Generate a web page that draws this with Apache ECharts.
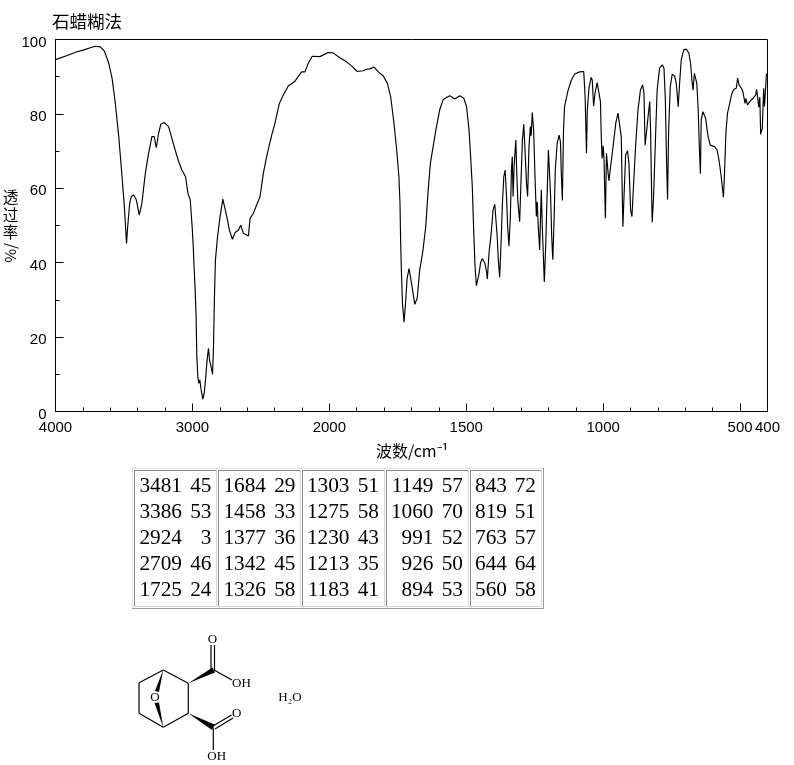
<!DOCTYPE html>
<html>
<head>
<meta charset="utf-8">
<style>html,body{margin:0;padding:0;background:#fff}#chart{width:794px;height:765px}</style>
<script src="https://cdn.jsdelivr.net/npm/echarts@6/dist/echarts.min.js"></script>
</head>
<body>
<div id="chart"></div>
<script>
// Spectrum: [wavenumber in cm-1, transmittance in %]
const spectrumOH = [[4000,94.6],[3995,94.7],[3915,95.7],[3842,96.7],[3793,97.2],[3745,97.8],[3708,98.2],[3672,98.0],[3643,96.9],[3611,93.6],[3587,89.6],[3563,82.8],[3538,73.9],[3514,63.1],[3497,55],[3487,48.8],[3481,45.2],[3475,48.8],[3458,56],[3446,57.8],[3429,58.2],[3410,56.9],[3388,52.8],[3369,56],[3344,64],[3320,69.4],[3296,73.9],[3279,73.9],[3264,70.9],[3247,74.8],[3230,77.3],[3206,77.7],[3174,76.6],[3150,73.4],[3126,70.3],[3101,67.2],[3077,64.9],[3050,63.1],[3033,58.7],[3016,56.9],[3002,49.7]];
const spectrumCH = [[2994,44.3],[2987,38.1],[2980,32.7],[2973,25.5],[2968,14.8],[2960,9],[2953,7.6],[2946,8.5],[2936,5.8],[2924,3.3],[2914,4.9],[2902,9.4],[2895,13],[2883,17],[2875,13.9],[2861,11.6],[2853,10],[2846,17.5],[2839,30.9],[2832,40.7],[2817,46.8],[2798,52.4],[2778,57.1],[2769,57.3],[2749,52.4],[2730,48.8],[2708,46.3],[2688,48.1],[2664,48.8],[2647,50.1],[2628,47.9],[2591,47.2],[2579,51.9],[2555,53.3],[2531,55.5],[2506,57.8]];
const spectrumPlateau = [[2482,64],[2458,68.5],[2421,74.3],[2397,77.5],[2365,82.8],[2336,85.1],[2300,87.5],[2251,88.8],[2203,91.3],[2178,91.3],[2154,93.6],[2125,95.5],[2069,95.4],[2008,96.5],[1986,96.4],[1962,95.1],[1937,94],[1919,92.9],[1898,91.4],[1876,91.6],[1864,92],[1852,92.1],[1837,92.6],[1821,91.3],[1803,90.2],[1788,88.2],[1776,84.6],[1764,77.5],[1754,70.3],[1746,63.1]];
const spectrumCO = [[1742,56],[1740,47],[1737,38],[1733,29],[1727,24],[1721,30],[1716,35.8],[1709,38.4],[1703,38],[1698,33.6],[1688,28.8],[1679,30.5],[1670,38],[1658,43.4],[1648,49.7],[1639,59.6],[1631,66.7],[1621,71.2],[1611,75.7],[1597,81.1],[1584,83.9],[1572,84.4],[1560,84.9],[1542,84],[1524,84.9],[1509,84.2],[1499,82],[1490,75.7],[1484,68.5],[1478,60.5],[1473,48.8],[1468,39],[1463,33.8],[1458,33.4]];
const spectrumFingerprintA = [[1453,37.2],[1448,39.9],[1442,41.1],[1432,39.9],[1426,37.6],[1423,35.6],[1417,42.6],[1409,47.9],[1402,54.2],[1396,55.7],[1392,55.3],[1387,47],[1383,40.8],[1378,36.1],[1373,45.2],[1368,56],[1363,63.1],[1358,64.9],[1353,57.8],[1349,49.7],[1344,44.5],[1339,52.4],[1335,64.9],[1332,68.5],[1329,57.8],[1325,66.3],[1319,73],[1316,65],[1312,56.9],[1305,51],[1300,62.2],[1295,73],[1290,77.2],[1285,69.4],[1280,61.3],[1276,57.8],[1271,71.2],[1266,76.6],[1263,74.1],[1259,80.4],[1254,75.7],[1249,63.1],[1244,52.4],[1241,56.4],[1237,49.7],[1232,43.4],[1226,59.6],[1222,48.8],[1215,34.8],[1210,44.3],[1205,57.8],[1200,70.3],[1195,70.8],[1192,57.8],[1188,47],[1184,40.8],[1179,52.4],[1175,64.9],[1168,72.1],[1161,74.3],[1156,72.5],[1153,64],[1149,56.7]];
const spectrumFingerprintB = [[1145,75.7],[1141,82],[1128,86.4],[1116,89.1],[1104,90.7],[1086,91.3],[1071,91.4],[1066,84.6],[1061,69.4],[1058,81],[1052,86.9],[1044,89.8],[1040,89.1],[1035,82.1],[1030,85.5],[1022,88.4],[1015,88],[1010,83.3],[1007,73.9],[1004,68],[1000,71.4],[997,68],[992,51.9],[988,69.4],[982,64],[979,62],[973,65.8],[964,71.2],[954,77.5],[946,80.2],[940,80.2],[934,73.9],[930,56.9],[928,49.7],[924,57.8],[918,69],[911,70.1],[906,66.7],[900,54.2],[895,52.4],[887,64],[881,72.1],[873,81],[864,86.4],[856,87.8],[851,85.5],[847,71.6],[845,71.5],[841,75.7],[836,79.3],[830,83.3],[827,75.7],[823,57.8],[821,50.9],[816,57.8],[808,75.7],[803,86.4],[794,92.3],[784,93.2],[778,92.3],[773,83.7],[769,68.5],[765,57]];
const spectrumLowEnd = [[761,75.7],[755,87.3],[748,90.7],[739,90.2],[733,88.2],[726,81.9],[721,88.2],[715,94.5],[706,97.2],[696,97.4],[687,96.3],[681,93.6],[676,89.1],[672,86.4],[667,90.9],[663,91.1],[658,88.2],[653,81],[649,71.2],[645,63.9],[642,78.4],[636,80.6],[631,80.9],[626,78.8],[617,73.9],[609,71.6],[593,71.2],[584,70.3],[577,67.6],[569,63.1],[561,57.6],[557,64],[552,74.8],[546,80.2],[538,82.8],[530,85.5],[523,86.6],[514,86.9],[509,89.6],[504,87.8],[499,88.2],[495,86.9],[490,86],[482,82.8],[479,84.2],[473,82.4],[465,83.3],[453,84.2],[443,85.1],[440,86.6],[436,84.5],[432,81.8],[428,84.5],[425,74.5],[419,76.1],[414,86.9],[411,82],[408,82.5],[404,90.6],[400,91]];

const xTickLabels = [4000, 3000, 2000, 1500, 1000, 500, 400];
const yTickLabels = [0, 20, 40, 60, 80, 100];

// Peak table columns
const peakWavenumbers = [
  [3481, 3386, 2924, 2709, 1725],
  [1684, 1458, 1377, 1342, 1326],
  [1303, 1275, 1230, 1213, 1183],
  [1149, 1060, 991, 926, 894],
  [843, 819, 763, 644, 560]
];
const peakValues = [
  [45, 53, 3, 46, 24],
  [29, 33, 36, 45, 58],
  [51, 58, 43, 35, 41],
  [57, 70, 52, 50, 53],
  [72, 51, 57, 64, 58]
];

const titleText = '石蜡糊法';
const xAxisName = '波数/cm⁻¹';

// The instrument's scale doubles below 2000 cm-1: map wavenumber onto a linear axis.
function toAxis(w) { return w >= 2000 ? (4000 - w) / 2 : 1000 + (2000 - w); }
function fromAxis(u) { return u <= 1000 ? 4000 - 2 * u : 2000 - (u - 1000); }

const spectrum = [].concat(spectrumOH, spectrumCH, spectrumPlateau, spectrumCO,
  spectrumFingerprintA, spectrumFingerprintB, spectrumLowEnd);

const axisFont = { fontFamily: '"Liberation Sans",sans-serif', fontSize: 15, color: '#000' };
const cjk = '"Noto Sans CJK SC",sans-serif';
const serif = '"Liberation Serif",serif';

const graphics = [];
function addText(text, x, y, font, align, opts) {
  graphics.push(Object.assign({
    type: 'text', silent: true,
    style: { text, x, y, font, textAlign: align || 'left', textVerticalAlign: 'middle', fill: '#000' }
  }, opts || {}));
}
function addLine(x1, y1, x2, y2, stroke, width) {
  graphics.push({ type: 'line', silent: true, shape: { x1, y1, x2, y2 }, style: { stroke: stroke || '#000', lineWidth: width || 1.2 } });
}
function addWedge(tipX, tipY, endX1, endY1, endX2, endY2) {
  graphics.push({ type: 'polygon', silent: true, shape: { points: [[tipX, tipY], [endX1, endY1], [endX2, endY2]] }, style: { fill: '#000' } });
}

// Headings and axis names
addText(titleText, 52, 21, '17.5px ' + cjk);
addText('透', 10.5, 197.5, '15.5px ' + cjk, 'center');
addText('过', 10.5, 215, '15.5px ' + cjk, 'center');
addText('率', 10.5, 232.5, '15.5px ' + cjk, 'center');
addText('%/', 10.5, 253, '15px ' + cjk, 'center', { rotation: Math.PI / 2, x: 0, y: 0, originX: 10.5, originY: 253 });
addText(xAxisName, 376, 451, '16px ' + cjk);

// Peak table, with the bevelled look of its outline
addLine(132.5, 468.5, 543.5, 468.5, '#e2e2e2', 1);
addLine(132.5, 468.5, 132.5, 608.5, '#e2e2e2', 1);
addLine(132, 608.5, 544, 608.5, '#999', 1);
addLine(543.5, 468, 543.5, 609, '#999', 1);
const cellLeft = [134.5, 218.5, 302.5, 386.5, 470.5];
const cellRight = [216.5, 300.5, 384.5, 468.5, 541.5];
const wnRight = [182, 266, 349.5, 433.5, 507];
const valRight = [211.5, 295.5, 379, 463, 536];
const rowY = [486.5, 512.5, 538.5, 564.5, 590.5];
peakWavenumbers.forEach((col, c) => {
  addLine(cellLeft[c], 470.5, cellRight[c], 470.5, '#858585', 1);
  addLine(cellLeft[c], 470.5, cellLeft[c], 606.5, '#858585', 1);
  addLine(cellLeft[c], 606.5, cellRight[c], 606.5, '#d8d8d8', 1);
  addLine(cellRight[c], 470.5, cellRight[c], 606.5, '#d8d8d8', 1);
  col.forEach((w, r) => {
    addText(String(w), wnRight[c], rowY[r], '21.3px ' + serif, 'right');
    addText(String(peakValues[c][r]), valRight[c], rowY[r], '21.3px ' + serif, 'right');
  });
});

// Structure drawing
[[163.3,670,139,682.7],[139,682.7,139,713.3],[139,713.3,163.3,727.3],[163.3,727.3,188.3,713.3],[188.3,713.3,188.3,683.3],[188.3,683.3,163.3,670],
 [211,669,211,645],[214.5,670,214.5,645],[214,670,232,680],
 [213,726,231.5,715],[215,729,233,718],[213.3,727.3,213.3,750]].forEach(l => addLine(l[0], l[1], l[2], l[3]));
addWedge(163.3, 669.5, 155, 691, 159, 692);
addWedge(163.3, 727.5, 154.5, 703, 159, 702.5);
addWedge(188.3, 683.3, 212.5, 667.5, 215, 672.5);
addWedge(188.3, 713.3, 214.5, 724.5, 212, 730);
addText('O', 155, 698, '13px ' + serif, 'center');
addText('O', 212.5, 640, '13px ' + serif, 'center');
addText('OH', 241.5, 683.5, '13px ' + serif, 'center');
addText('O', 236.7, 713.5, '13px ' + serif, 'center');
addText('OH', 216.7, 756.5, '13px ' + serif, 'center');
addText('H₂O', 290, 698, '13px ' + serif, 'center');

const chart = echarts.init(document.getElementById('chart'), null, { renderer: 'canvas' });
const xTickAxisValues = xTickLabels.map(toAxis);
chart.setOption({
  animation: false,
  backgroundColor: '#fff',
  grid: { left: 55.5, top: 39.5, width: 712, height: 372, show: true, borderColor: '#000', borderWidth: 1, backgroundColor: 'transparent' },
  xAxis: [
    {
      type: 'value', min: 0, max: 2600, interval: 100,
      axisLine: { show: true, lineStyle: { color: '#000', width: 1 } },
      axisTick: { show: true, inside: true, length: 8, lineStyle: { color: '#000' }, customValues: xTickAxisValues },
      axisLabel: { show: true, margin: 9, hideOverlap: false, showMinLabel: true, showMaxLabel: true, customValues: xTickAxisValues, formatter: v => String(fromAxis(v)), ...axisFont },
      splitLine: { show: false }
    },
    {
      type: 'value', min: 0, max: 2600, interval: 100, position: 'bottom',
      axisLine: { show: false },
      axisTick: { show: true, inside: true, length: 4, lineStyle: { color: '#000' } },
      axisLabel: { show: false },
      splitLine: { show: false }
    }
  ],
  yAxis: {
    type: 'value', min: 0, max: 100, interval: 20,
    axisLine: { show: true, lineStyle: { color: '#000', width: 1 } },
    axisTick: { show: true, inside: true, length: 8, lineStyle: { color: '#000' } },
    minorTick: { show: true, splitNumber: 2, length: 4, lineStyle: { color: '#000' } },
    axisLabel: { show: true, margin: 9, verticalAlign: 'top', lineHeight: 6, formatter: v => yTickLabels.includes(v) ? String(v) : '', ...axisFont },
    splitLine: { show: false }
  },
  series: [{
    type: 'line',
    data: spectrum.map(p => [toAxis(p[0]), p[1]]),
    showSymbol: false,
    symbol: 'none',
    lineStyle: { color: '#000', width: 1.15 },
    clip: false,
    silent: true
  }],
  graphic: { elements: graphics }
});
</script>
</body>
</html>
